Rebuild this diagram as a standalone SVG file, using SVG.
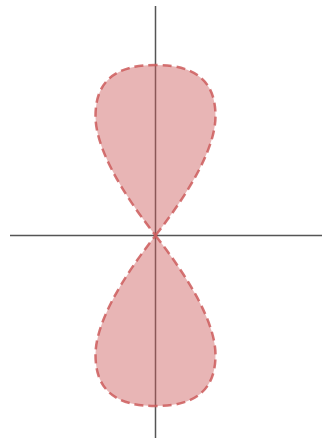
<svg xmlns="http://www.w3.org/2000/svg" width="322" height="438" viewBox="0 0 322 438">
  <style>
    .axis { stroke: #555555; stroke-width: 1.5; fill: none; }
    .lobe { fill: #cd5c5c; fill-opacity: 0.45; stroke: #cd5c5c; stroke-opacity: 0.85; stroke-width: 2.5; stroke-dasharray: 9 5; }
  </style>
  <rect width="322" height="438" fill="#ffffff"/>
  <g id="axes">
    <line class="axis" x1="155.5" y1="6" x2="155.5" y2="438"/>
    <line class="axis" x1="10" y1="235.5" x2="322" y2="235.5"/>
  </g>
  <g id="lobe-top">
    <path class="lobe" d="M155.5,235.5 C192.5,188.2 215.5,146 215.5,116 C215.5,81 195.5,65 155.5,65 C115.5,65 95.5,81 95.5,116 C95.5,146 118.5,188.2 155.5,235.5 Z"/>
  </g>
  <g id="lobe-bottom">
    <path class="lobe" d="M155.5,235.5 C192.5,282.8 215.5,325 215.5,355 C215.5,390 195.5,406 155.5,406 C115.5,406 95.5,390 95.5,355 C95.5,325 118.5,282.8 155.5,235.5 Z"/>
  </g>
</svg>
